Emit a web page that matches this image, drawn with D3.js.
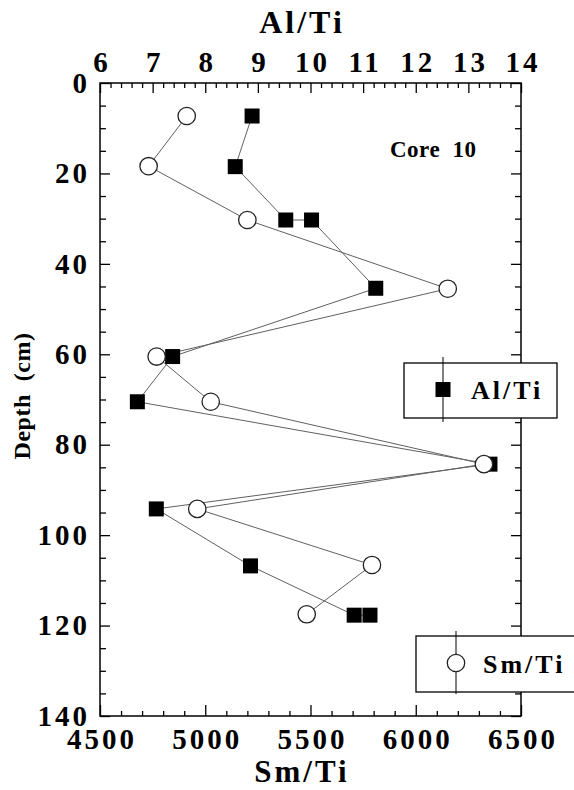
<!DOCTYPE html>
<html><head><meta charset="utf-8">
<script src="https://cdn.jsdelivr.net/npm/d3@7"></script>
<style>
html,body{margin:0;padding:0;background:#fff;}
</style></head>
<body><svg id="c" width="574" height="790"></svg>
<script>
// ---- data ----
const depthSm = [7.3, 18.4, 30.3, 45.5, 60.5, 70.5, 84.3, 94.2, 106.6, 117.5];
const smTi    = [4912, 4731, 5200, 6152, 4769, 5026, 6324, 4962, 5792, 5482];
const depthAl = [7.3, 18.5, 30.3, 30.3, 45.4, 60.5, 70.5, 84.3, 94.2, 106.8, 117.7, 117.7];
const alTi    = [8.89, 8.57, 9.53, 10.02, 11.24, 7.38, 6.71, 13.41, 7.07, 8.86, 10.83, 11.13];
const alTicks = [6, 7, 8, 9, 10, 11, 12, 13, 14];
const smTicks = [4500, 5000, 5500, 6000, 6500];
const depthTicks = [0, 20, 40, 60, 80, 100, 120, 140];

const L = 100, R = 521, T = 83, B = 716;
const svg = d3.select("#c");
const xAl = d3.scaleLinear().domain([6, 14]).range([L, R]);
const xSm = d3.scaleLinear().domain([4500, 6500]).range([L, R]);
const y = d3.scaleLinear().domain([0, 140]).range([T, B]);

const fs = 29, ls = 3;
function style(g){ g.select(".domain").remove(); g.selectAll("line").attr("stroke","#000").attr("stroke-width",1.3);
  g.selectAll("text").style("font-size", fs+"px").style("letter-spacing", ls+"px"); }

// minor ticks
const minorAl = d3.range(6, 14.001, 0.2).filter(v => Math.abs(v - Math.round(v)) > 1e-6);
const minorSm = d3.range(4500, 6501, 100).filter(v => v % 500 !== 0);
const minorD = d3.range(0, 141, 5).filter(v => v % 20 !== 0);

svg.append("g").attr("transform",`translate(0,${T})`).call(d3.axisTop(xAl).tickValues(minorAl).tickSize(-5).tickFormat("")).call(style);
const gTop = svg.append("g").attr("transform",`translate(0,${T})`).call(d3.axisTop(xAl).tickValues(alTicks).tickSize(-10).tickPadding(11).tickFormat(d3.format("d"))).call(style);
svg.append("g").attr("transform",`translate(0,${B})`).call(d3.axisBottom(xSm).tickValues(minorSm).tickSize(-5).tickFormat("")).call(style);
const gBot = svg.append("g").attr("transform",`translate(0,${B})`).call(d3.axisBottom(xSm).tickValues(smTicks).tickSize(-11).tickPadding(12).tickFormat(d3.format("d"))).call(style);
svg.append("g").attr("transform",`translate(${L},0)`).call(d3.axisLeft(y).tickValues(minorD).tickSize(-6).tickFormat("")).call(style);
svg.append("g").attr("transform",`translate(${L},0)`).call(d3.axisLeft(y).tickValues(depthTicks).tickSize(-10).tickPadding(10).tickFormat(d3.format("d"))).call(style);
svg.append("g").attr("transform",`translate(${R},0)`).call(d3.axisRight(y).tickValues(minorD).tickSize(-6).tickFormat("")).call(style);
svg.append("g").attr("transform",`translate(${R},0)`).call(d3.axisRight(y).tickValues(depthTicks).tickSize(-10).tickFormat("")).call(style);
// compensate trailing letter-spacing for centred labels
gTop.selectAll("text").attr("dx", (ls/2)+"px");
gBot.selectAll("text").attr("dx", (ls/2)+"px");

svg.append("rect").attr("x",L).attr("y",T).attr("width",R-L).attr("height",B-T)
  .attr("fill","none").attr("stroke","#000").attr("stroke-width",1.5);

// lines
const smPts = smTi.map((v,i)=>[xSm(v), y(depthSm[i])]);
const alPts = alTi.map((v,i)=>[xAl(v), y(depthAl[i])]);
svg.append("path").attr("d", d3.line()(smPts)).attr("fill","none").attr("stroke","#606060").attr("stroke-width",1);
svg.append("path").attr("d", d3.line()(alPts)).attr("fill","none").attr("stroke","#606060").attr("stroke-width",1);

// markers
svg.append("g").selectAll("rect").data(alPts).join("rect")
  .attr("x",d=>d[0]-7.5).attr("y",d=>d[1]-7.5).attr("width",15).attr("height",15).attr("fill","#000");
svg.append("g").selectAll("circle").data(smPts).join("circle")
  .attr("cx",d=>d[0]).attr("cy",d=>d[1]).attr("r",8.7).attr("fill","#fff").attr("stroke","#222").attr("stroke-width",1.3);

// titles
svg.append("text").attr("x",302).attr("y",33).attr("text-anchor","middle").style("font-size","32px").style("letter-spacing","3px").text("Al/Ti");
svg.append("text").attr("x",302).attr("y",782).attr("text-anchor","middle").style("font-size","31px").style("letter-spacing","3px").text("Sm/Ti");
svg.append("text").attr("transform",`translate(30,${396}) rotate(-90)`).attr("text-anchor","middle").style("font-size","24px").style("letter-spacing","0.5px").style("white-space","pre").text("Depth  (cm)");
svg.append("text").attr("x",390).attr("y",157).style("font-size","23px").style("white-space","pre").style("letter-spacing","0.5px").text("Core  10");

// legends
const lg1 = svg.append("g");
lg1.append("rect").attr("x",404).attr("y",363).attr("width",153).attr("height",55).attr("fill","#fff").attr("stroke","#000").attr("stroke-width",1.3);
lg1.append("line").attr("x1",443).attr("x2",443).attr("y1",357).attr("y2",422).attr("stroke","#000");
lg1.append("rect").attr("x",443-7.5).attr("y",389.5-7.5).attr("width",15).attr("height",15).attr("fill","#000");
lg1.append("text").attr("x",471).attr("y",399).style("font-size","26px").style("letter-spacing","3px").text("Al/Ti");

const lg2 = svg.append("g");
lg2.append("rect").attr("x",416).attr("y",636).attr("width",170).attr("height",56).attr("fill","#fff").attr("stroke","#000").attr("stroke-width",1.3);
lg2.append("line").attr("x1",456).attr("x2",456).attr("y1",631).attr("y2",694).attr("stroke","#000");
lg2.append("circle").attr("cx",456).attr("cy",663).attr("r",8.7).attr("fill","#fff").attr("stroke","#222").attr("stroke-width",1.3);
lg2.append("text").attr("x",483).attr("y",673).style("font-size","26px").style("letter-spacing","3px").text("Sm/Ti");

svg.selectAll("text").style("font-family","'Liberation Serif','Times New Roman',serif").style("font-weight","bold").attr("fill","#000");
</script></body></html>
